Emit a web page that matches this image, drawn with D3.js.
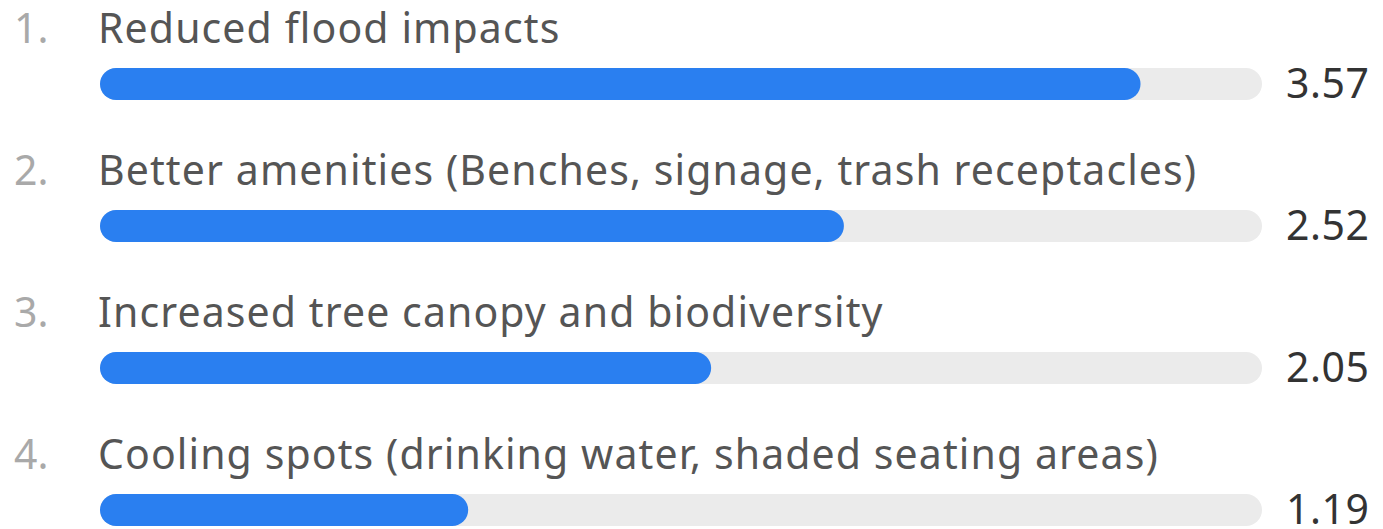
<!DOCTYPE html>
<meta charset="utf-8">
<style>
body { margin: 0; background: #fff; }
svg text { font-family: "Noto Sans", "Open Sans", sans-serif; }
.rank { fill: #a9a9a9; font-size: 41px; }
.label { fill: #555; font-size: 41px; letter-spacing: 1.1px; }
.value { fill: #333; font-size: 41px; letter-spacing: 0.5px; }
</style>
<svg width="1383" height="529"></svg>
<script src="https://cdnjs.cloudflare.com/ajax/libs/d3/7.8.5/d3.min.js"></script>
<script>

var ranks = ["1.", "2.", "3.", "4."];
var labels = [
  "Reduced flood impacts",
  "Better amenities (Benches, signage, trash receptacles)",
  "Increased tree canopy and biodiversity",
  "Cooling spots (drinking water, shaded seating areas)"
];
var values = [3.57, 2.52, 2.05, 1.19];
var maxValue = 4;

var svg = d3.select("svg"),
    left = 100,
    trackW = 1162,
    barH = 32,
    rowH = 142;

var x = d3.scaleLinear().domain([0, maxValue]).range([barH, trackW]);

var rows = svg.selectAll(".row")
  .data(values)
  .enter().append("g")
    .attr("class", "row")
    .attr("transform", function(d, i) { return "translate(0," + (i * rowH) + ")"; });

rows.append("text")
    .attr("class", "rank")
    .attr("x", 14)
    .attr("y", 43)
    .text(function(d, i) { return ranks[i]; });

rows.append("text")
    .attr("class", "label")
    .attr("x", 98)
    .attr("y", 43)
    .text(function(d, i) { return labels[i]; });

// grey track
rows.append("rect")
    .attr("x", left)
    .attr("y", 68)
    .attr("width", trackW)
    .attr("height", barH)
    .attr("rx", barH / 2)
    .attr("fill", "#ebebeb");

// blue bar
rows.append("rect")
    .attr("x", left)
    .attr("y", 68)
    .attr("width", function(d) { return x(d); })
    .attr("height", barH)
    .attr("rx", barH / 2)
    .attr("fill", "#2a7ff0");

rows.append("text")
    .attr("class", "value")
    .attr("x", 1286)
    .attr("y", 98)
    .text(function(d) { return d.toFixed(2); });

</script>
